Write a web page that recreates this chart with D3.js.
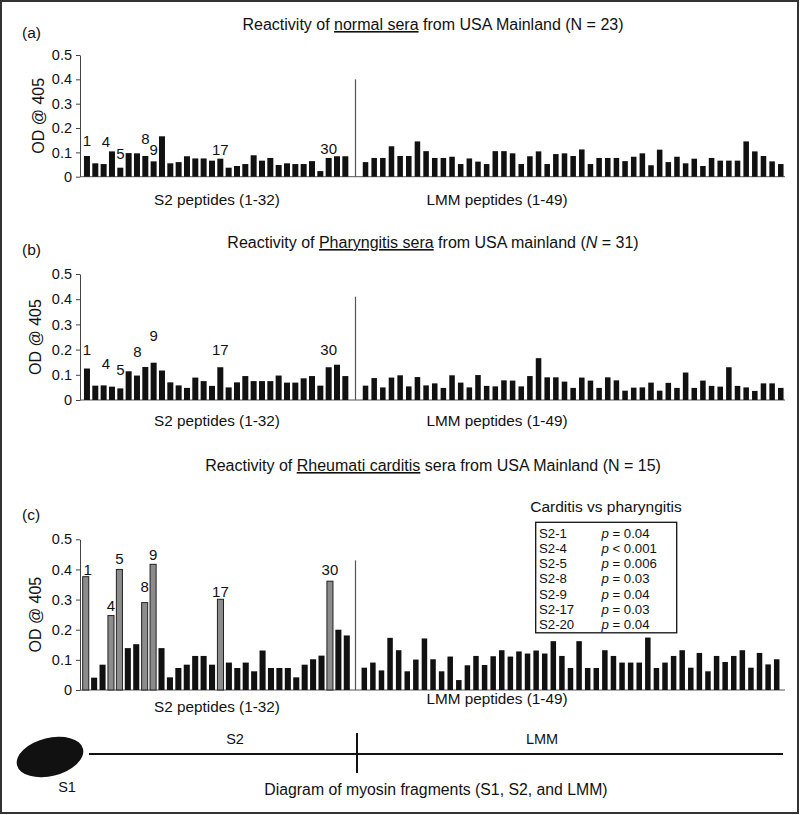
<!DOCTYPE html>
<html><head><meta charset="utf-8">
<script src="https://cdn.jsdelivr.net/npm/d3@7"></script>
<style>body{margin:0;background:#fff}svg{display:block;font-family:"Liberation Sans",Arial,sans-serif}</style>
</head><body><svg id="c" width="800" height="815"></svg>
<script>
// ---------- DATA ----------
const s2Peptides = d3.range(1, 33);
const lmmPeptides = d3.range(1, 50);
const yTicks = [0, 0.1, 0.2, 0.3, 0.4, 0.5];
const yTickLabels = ["0", "0.1", "0.2", "0.3", "0.4", "0.5"];
const labelledPeptides = [1, 4, 5, 8, 9, 17, 30];
const significantPeptides = [1, 4, 5, 8, 9, 17, 30];

const normalS2 = [0.085,0.055,0.052,0.104,0.037,0.097,0.096,0.085,0.063,0.166,0.055,0.060,0.084,0.075,0.075,0.066,0.074,0.037,0.044,0.052,0.088,0.066,0.077,0.048,0.055,0.052,0.052,0.064,0.023,0.077,0.084,0.084];
const normalLMM = [0.060,0.077,0.077,0.125,0.085,0.085,0.145,0.105,0.077,0.077,0.082,0.052,0.075,0.062,0.052,0.105,0.105,0.096,0.052,0.084,0.104,0.052,0.093,0.096,0.085,0.112,0.052,0.077,0.077,0.077,0.064,0.082,0.096,0.047,0.111,0.060,0.082,0.055,0.074,0.044,0.077,0.066,0.066,0.066,0.145,0.104,0.085,0.063,0.052];

const pharS2 = [0.125,0.057,0.058,0.053,0.046,0.114,0.097,0.131,0.148,0.117,0.070,0.058,0.048,0.089,0.075,0.056,0.130,0.050,0.070,0.095,0.075,0.075,0.075,0.097,0.069,0.069,0.086,0.095,0.057,0.130,0.140,0.095];
const pharLMM = [0.057,0.087,0.050,0.089,0.098,0.054,0.091,0.058,0.066,0.048,0.098,0.069,0.050,0.099,0.056,0.054,0.078,0.077,0.054,0.095,0.166,0.090,0.090,0.073,0.048,0.089,0.077,0.048,0.090,0.078,0.037,0.049,0.050,0.069,0.037,0.068,0.048,0.109,0.048,0.077,0.056,0.053,0.130,0.056,0.050,0.036,0.066,0.066,0.048];

const carditisS2 = [0.376,0.041,0.084,0.247,0.400,0.139,0.152,0.290,0.417,0.139,0.042,0.073,0.084,0.113,0.113,0.084,0.301,0.091,0.073,0.091,0.062,0.131,0.073,0.073,0.073,0.042,0.084,0.102,0.114,0.361,0.200,0.181];
const carditisLMM = [0.074,0.091,0.065,0.173,0.132,0.062,0.101,0.171,0.102,0.062,0.111,0.033,0.082,0.113,0.083,0.112,0.132,0.111,0.128,0.121,0.131,0.121,0.162,0.113,0.073,0.162,0.073,0.073,0.132,0.113,0.091,0.091,0.091,0.174,0.073,0.091,0.113,0.132,0.074,0.123,0.062,0.113,0.093,0.113,0.132,0.074,0.123,0.085,0.102];

const legendPeptides = ["S2-1","S2-4","S2-5","S2-8","S2-9","S2-17","S2-20"];
const legendOps = ["=","<","=","=","=","=","="];
const legendPValues = ["0.04","0.001","0.006","0.03","0.04","0.03","0.04"];

// ---------- DRAW ----------
const svg = d3.select("#c");
svg.append("rect").attr("x",1).attr("y",1).attr("width",797).attr("height",812)
  .attr("fill","none").attr("stroke","#333").attr("stroke-width",2);

// label placement styles per panel (gap above bar in px, horizontal nudge)
const panels = [
  {tag:"(a)", title:["Reactivity of ", {u:"normal sera"}, " from USA Mainland (N = 23)"], titleY:30, tagY:38,
   s2:normalS2, lmm:normalLMM, y0:176.7, y1:55, s2R:[82.8,349.5], lmmR:[361.2,785.1], sep:0.4,
   gap:{1:10,4:4,5:9,8:12,9:6,17:4,30:4}, nudge:{4:-6},
   s2LabY:205, lmmLabY:205, yTitleX:38, hl:false},
  {tag:"(b)", title:["Reactivity of ", {u:"Pharyngitis sera"}, " from USA mainland (", {i:"N"}, " = 31)"], titleY:248, tagY:255,
   s2:pharS2, lmm:pharLMM, y0:400, y1:274, s2R:[82.8,349.5], lmmR:[361.2,785.1], sep:0.41,
   gap:{1:14,4:18,5:13,8:10,9:22,17:12,30:12}, nudge:{4:-6,8:-8},
   s2LabY:426, lmmLabY:426, yTitleX:35, hl:false},
  {tag:"(c)", title:["Reactivity of ", {u:"Rheumati carditis"}, " sera from USA Mainland (N = 15)"], titleY:471, tagY:520,
   s2:carditisS2, lmm:carditisLMM, y0:690, y1:539.3, s2R:[81.5,351], lmmR:[360,781], sep:0.43,
   gap:{1:2,4:5,5:5,8:11,9:4,17:2,30:6}, nudge:{1:2},
   s2LabY:712, lmmLabY:704, yTitleX:35, hl:true}
];

panels.forEach(p => {
  const g = svg.append("g");
  const y = d3.scaleLinear().domain([0,0.5]).range([p.y0,p.y1]);
  const xs = d3.scaleBand().domain(s2Peptides).range(p.s2R).paddingInner(0.28).paddingOuter(0.14);
  const xl = d3.scaleBand().domain(lmmPeptides).range(p.lmmR).paddingInner(0.36).paddingOuter(0.18);

  // title
  const t = g.append("text").attr("x",433).attr("y",p.titleY).attr("text-anchor","middle")
    .attr("font-size",16).attr("fill","#111");
  p.title.forEach(part => {
    if (typeof part === "string") t.append("tspan").text(part);
    else if (part.u) t.append("tspan").attr("text-decoration","underline").style("text-decoration","underline").text(part.u);
    else if (part.i) t.append("tspan").attr("font-style","italic").text(part.i);
  });
  g.append("text").attr("x",22).attr("y",p.tagY).attr("font-size",15.5).attr("fill","#111").text(p.tag);

  // y axis
  const ax = d3.axisLeft(y).tickValues(yTicks).tickFormat((d,i)=>yTickLabels[i]).tickSize(4).tickSizeOuter(0).tickPadding(4);
  const ag = g.append("g").attr("transform","translate(80,0)").call(ax);
  ag.select(".domain").attr("stroke","#444");
  ag.selectAll(".tick line").attr("stroke","#444");
  ag.selectAll("text").attr("font-size",14.5).attr("fill","#111").attr("font-family","Liberation Sans, Arial, sans-serif");
  g.append("text").attr("transform",`translate(${p.yTitleX},${(p.y0+p.y1)/2}) rotate(-90)`)
    .attr("text-anchor","middle").attr("dy","0.35em").attr("font-size",16).attr("fill","#111").text("OD @ 405");

  // baseline
  g.append("line").attr("x1",80).attr("x2",785).attr("y1",p.y0).attr("y2",p.y0).attr("stroke","#555").attr("stroke-width",1);
  // separator
  g.append("line").attr("x1",355.5).attr("x2",355.5).attr("y1",p.y0).attr("y2",y(p.sep)).attr("stroke","#555").attr("stroke-width",1.2);

  // bars
  const isHl = d => p.hl && significantPeptides.includes(d);
  g.append("g").selectAll("rect").data(s2Peptides).join("rect")
    .attr("x",d=>xs(d)).attr("width",xs.bandwidth())
    .attr("y",(d,i)=>y(p.s2[i])).attr("height",(d,i)=>p.y0-y(p.s2[i]))
    .attr("fill",d=>isHl(d)?"#8c8c8c":"#111")
    .attr("stroke",d=>isHl(d)?"#222":"none").attr("stroke-width",1);
  g.append("g").selectAll("rect").data(lmmPeptides).join("rect")
    .attr("x",d=>xl(d)).attr("width",xl.bandwidth())
    .attr("y",(d,i)=>y(p.lmm[i])).attr("height",(d,i)=>p.y0-y(p.lmm[i]))
    .attr("fill","#111");

  // peptide labels
  g.append("g").selectAll("text").data(labelledPeptides).join("text")
    .attr("x",d=>xs(d)+xs.bandwidth()/2+(p.nudge[d]||0)).attr("y",d=>y(p.s2[d-1])-(p.gap[d]||4))
    .attr("text-anchor","middle").attr("font-size",15).attr("fill","#111").text(d=>d);

  // x labels
  g.append("text").attr("x",217).attr("y",p.s2LabY).attr("text-anchor","middle").attr("font-size",15.3).attr("fill","#111").text("S2 peptides (1-32)");
  g.append("text").attr("x",497).attr("y",p.lmmLabY).attr("text-anchor","middle").attr("font-size",15.3).attr("fill","#111").text("LMM peptides (1-49)");
});

// legend
const lg = svg.append("g");
lg.append("text").attr("x",606).attr("y",512).attr("text-anchor","middle").attr("font-size",15.5).attr("fill","#111").text("Carditis vs pharyngitis");
lg.append("rect").attr("x",535.7).attr("y",522.3).attr("width",141).attr("height",110.5).attr("fill","#fff").attr("stroke","#111").attr("stroke-width",1.3);
const rowY = d3.scaleLinear().domain([0,6]).range([537.5,629]);
legendPeptides.forEach((lab,i)=>{
  lg.append("text").attr("x",539).attr("y",rowY(i)).attr("font-size",13.2).attr("fill","#111").text(lab);
  const tt = lg.append("text").attr("x",601.5).attr("y",rowY(i)).attr("font-size",13.2).attr("fill","#111");
  tt.append("tspan").attr("font-style","italic").text("p");
  tt.append("tspan").text(` ${legendOps[i]} ${legendPValues[i]}`);
});

// myosin diagram
const dg = svg.append("g");
dg.append("ellipse").attr("cx",50).attr("cy",757).attr("rx",34).attr("ry",19).attr("transform","rotate(-14,50,757)").attr("fill","#111");
dg.append("line").attr("x1",89).attr("x2",783).attr("y1",754).attr("y2",754).attr("stroke","#111").attr("stroke-width",2);
dg.append("line").attr("x1",357).attr("x2",357).attr("y1",733).attr("y2",773).attr("stroke","#111").attr("stroke-width",2);
dg.append("text").attr("x",235).attr("y",744).attr("text-anchor","middle").attr("font-size",14.5).attr("fill","#111").text("S2");
dg.append("text").attr("x",542).attr("y",744).attr("text-anchor","middle").attr("font-size",14.5).attr("fill","#111").text("LMM");
dg.append("text").attr("x",67).attr("y",792).attr("text-anchor","middle").attr("font-size",14.5).attr("fill","#111").text("S1");
dg.append("text").attr("x",436).attr("y",795).attr("text-anchor","middle").attr("font-size",15.8).attr("fill","#111").text("Diagram of myosin fragments (S1, S2, and LMM)");
</script></body></html>
